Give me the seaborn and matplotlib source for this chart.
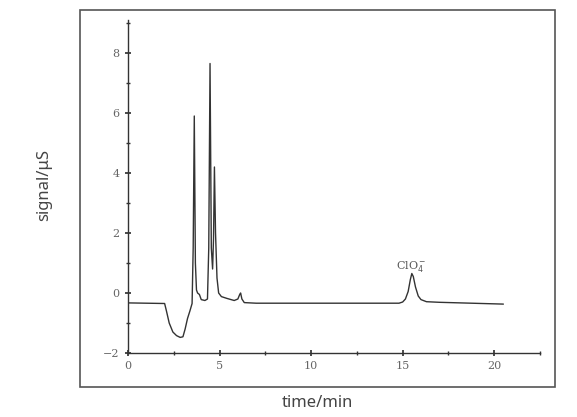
import matplotlib
matplotlib.use("Agg")
import matplotlib.pyplot as plt
import seaborn as sns
from matplotlib.patches import Rectangle
from matplotlib.ticker import MultipleLocator

time_min = [0, 1.0, 2.0, 2.1, 2.25, 2.45, 2.65, 2.85, 3.0, 3.12, 3.25, 3.38, 3.5, 3.56, 3.62, 3.68, 3.74,
            3.8, 3.9, 4.0, 4.2, 4.34, 4.41, 4.48, 4.55, 4.62, 4.67, 4.72, 4.78, 4.86, 4.95,
            5.1, 5.4, 5.8, 6.0, 6.1, 6.15, 6.22, 6.35, 7.0, 10.0, 14.8, 15.0, 15.15, 15.3, 15.42, 15.5,
            15.58, 15.7, 15.85, 16.0, 16.3, 17.0, 20.5]
signal_us = [-0.33, -0.34, -0.35, -0.6, -1.0, -1.3, -1.42, -1.48, -1.46, -1.2, -0.85, -0.6, -0.35, 1.5, 5.9, 1.0, 0.1,
             0.0, -0.05, -0.22, -0.25, -0.2, 1.5, 7.65, 1.5, 0.8, 1.8, 4.2, 2.0, 0.5, 0.0,
             -0.12, -0.18, -0.25, -0.2, -0.05, 0.0, -0.2, -0.32, -0.34, -0.34, -0.34, -0.3, -0.2, 0.05, 0.45, 0.65,
             0.55, 0.2, -0.1, -0.22, -0.29, -0.31, -0.37]

sns.set_theme(style="white")
fig = plt.figure(figsize=(5.77, 4.17), dpi=100)
fig.patches.append(Rectangle((80/577, 1-387/417), 475/577, 377/417, transform=fig.transFigure,
                             fill=False, edgecolor="#555555", linewidth=1.2))
ax = fig.add_axes([128/577, 1-353/417, 412/577, 333/417])
sns.lineplot(x=time_min, y=signal_us, ax=ax, color="#333333", linewidth=1.0, sort=False)
ax.set_xlim(0, 22.5)
ax.set_ylim(-2, 9.1)
for s in ["top", "right"]:
    ax.spines[s].set_visible(False)
for s in ["left", "bottom"]:
    ax.spines[s].set_color("#333333")
    ax.spines[s].set_linewidth(1.0)
ax.xaxis.set_major_locator(MultipleLocator(5))
ax.xaxis.set_minor_locator(MultipleLocator(2.5))
ax.yaxis.set_major_locator(MultipleLocator(2))
ax.yaxis.set_minor_locator(MultipleLocator(1))
ax.tick_params(which="both", direction="inout", bottom=True, left=True, colors="#333333",
               labelcolor="#666666", labelsize=8)
ax.tick_params(which="major", length=5)
ax.tick_params(which="minor", length=3)
for lab in ax.get_xticklabels() + ax.get_yticklabels():
    lab.set_family("DejaVu Serif")
ax.text(15.45, 0.8, r"ClO$_4^-$", fontsize=8, color="#555555", ha="center", family="DejaVu Serif")
fig.text(44/577, 1-185/417, "signal/μS", rotation=90, ha="center", va="center",
         fontsize=12, color="#444444", family="Noto Sans")
fig.text(317/577, 1-403/417, "time/min", ha="center", va="center",
         fontsize=12, color="#444444", family="Noto Sans")
fig.savefig("out.png", dpi=100)
